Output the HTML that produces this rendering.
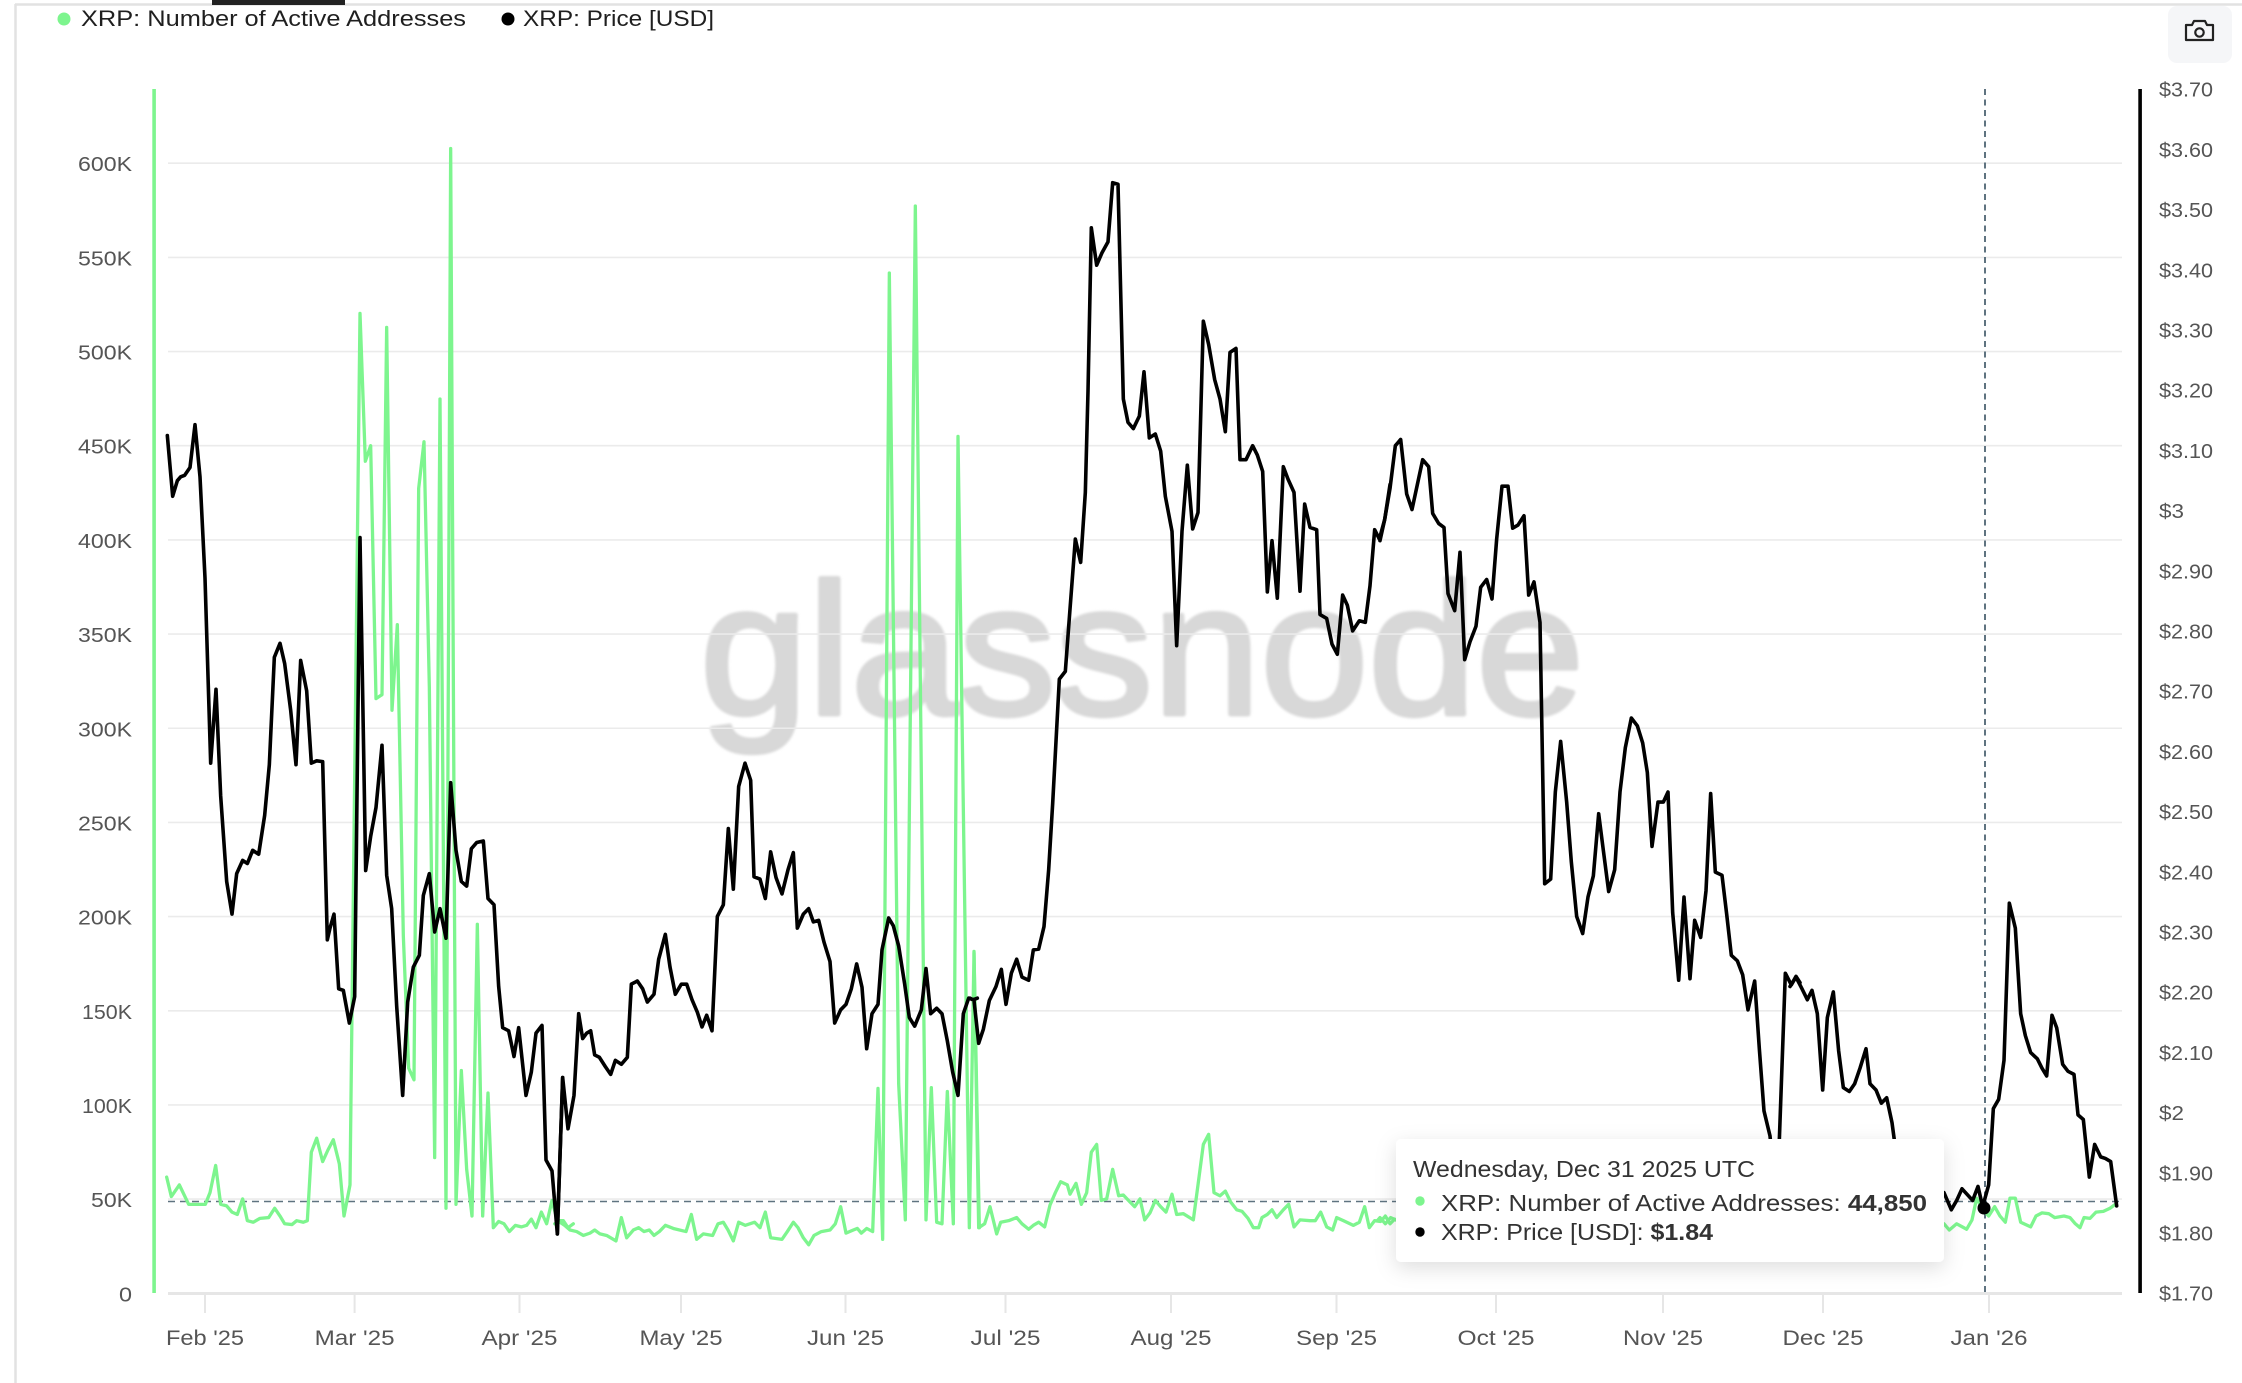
<!DOCTYPE html>
<html>
<head>
<meta charset="utf-8">
<style>
  html, body { margin: 0; padding: 0; background: #ffffff; }
  body { width: 2242px; height: 1383px; overflow: hidden; }
  svg { display: block; }
  text { font-family: "Liberation Sans", "DejaVu Sans", sans-serif; }
</style>
</head>
<body>
<svg width="2242" height="1383" viewBox="0 0 2242 1383" xmlns="http://www.w3.org/2000/svg">
  <defs>
    <filter id="sh" x="-10%" y="-30%" width="120%" height="170%">
      <feDropShadow dx="0" dy="6" stdDeviation="10" flood-color="#000" flood-opacity="0.13"/>
    </filter>
    <filter id="bl" x="-5%" y="-20%" width="110%" height="140%">
      <feGaussianBlur stdDeviation="1.2"/>
    </filter>
  </defs>

  <!-- frame -->
  <rect x="0" y="0" width="2242" height="1383" fill="#ffffff"/>
  <line x1="15" y1="4.5" x2="2242" y2="4.5" stroke="#e2e2e2" stroke-width="2.5"/>
  <line x1="15.5" y1="4" x2="15.5" y2="1383" stroke="#e2e2e2" stroke-width="2.5"/>
  <rect x="212" y="0" width="133" height="5" fill="#222222"/>

  <!-- camera button -->
  <rect x="2168" y="6" width="64" height="57" rx="9" fill="#f5f6f8"/>
  <g fill="none" stroke="#222" stroke-width="2.2" stroke-linejoin="round">
    <path d="M2186,25 L2192,25 L2194,21 L2205,21 L2207,25 L2213,25 L2213,40 L2186,40 Z"/>
    <circle cx="2199.5" cy="32.5" r="4.2"/>
  </g>

  <!-- watermark -->
  <text x="700" y="714" font-size="187" fill="#d8d8d8" stroke="#d8d8d8" stroke-width="5" stroke-linejoin="round" textLength="884" lengthAdjust="spacingAndGlyphs" filter="url(#bl)">glassnode</text>

  <!-- gridlines -->
  <g stroke="#ebebeb" stroke-width="1.6">
    <line x1="168" y1="1199.1" x2="2122" y2="1199.1"/>
    <line x1="168" y1="1104.95" x2="2122" y2="1104.95"/>
    <line x1="168" y1="1010.8" x2="2122" y2="1010.8"/>
    <line x1="168" y1="916.6" x2="2122" y2="916.6"/>
    <line x1="168" y1="822.4" x2="2122" y2="822.4"/>
    <line x1="168" y1="728.25" x2="2122" y2="728.25"/>
    <line x1="168" y1="634.1" x2="2122" y2="634.1"/>
    <line x1="168" y1="539.9" x2="2122" y2="539.9"/>
    <line x1="168" y1="445.7" x2="2122" y2="445.7"/>
    <line x1="168" y1="351.55" x2="2122" y2="351.55"/>
    <line x1="168" y1="257.4" x2="2122" y2="257.4"/>
    <line x1="168" y1="163.2" x2="2122" y2="163.2"/>
  </g>

  <!-- x axis -->
  <line x1="168" y1="1293.5" x2="2122" y2="1293.5" stroke="#e6e6e6" stroke-width="3"/>
  <g stroke="#e6e6e6" stroke-width="2">
    <line x1="205" y1="1293" x2="205" y2="1313"/>
    <line x1="354.6" y1="1293" x2="354.6" y2="1313"/>
    <line x1="519.5" y1="1293" x2="519.5" y2="1313"/>
    <line x1="681" y1="1293" x2="681" y2="1313"/>
    <line x1="845.5" y1="1293" x2="845.5" y2="1313"/>
    <line x1="1005.5" y1="1293" x2="1005.5" y2="1313"/>
    <line x1="1171" y1="1293" x2="1171" y2="1313"/>
    <line x1="1336.5" y1="1293" x2="1336.5" y2="1313"/>
    <line x1="1496" y1="1293" x2="1496" y2="1313"/>
    <line x1="1663" y1="1293" x2="1663" y2="1313"/>
    <line x1="1823" y1="1293" x2="1823" y2="1313"/>
    <line x1="1989" y1="1293" x2="1989" y2="1313"/>
  </g>
  <g font-size="21" fill="#555555" text-anchor="middle">
    <text x="205" y="1345" textLength="78" lengthAdjust="spacingAndGlyphs">Feb '25</text>
    <text x="354.6" y="1345" textLength="80" lengthAdjust="spacingAndGlyphs">Mar '25</text>
    <text x="519.5" y="1345" textLength="76" lengthAdjust="spacingAndGlyphs">Apr '25</text>
    <text x="681" y="1345" textLength="83" lengthAdjust="spacingAndGlyphs">May '25</text>
    <text x="845.5" y="1345" textLength="77" lengthAdjust="spacingAndGlyphs">Jun '25</text>
    <text x="1005.5" y="1345" textLength="70" lengthAdjust="spacingAndGlyphs">Jul '25</text>
    <text x="1171" y="1345" textLength="81" lengthAdjust="spacingAndGlyphs">Aug '25</text>
    <text x="1336.5" y="1345" textLength="81" lengthAdjust="spacingAndGlyphs">Sep '25</text>
    <text x="1496" y="1345" textLength="77" lengthAdjust="spacingAndGlyphs">Oct '25</text>
    <text x="1663" y="1345" textLength="80" lengthAdjust="spacingAndGlyphs">Nov '25</text>
    <text x="1823" y="1345" textLength="81" lengthAdjust="spacingAndGlyphs">Dec '25</text>
    <text x="1989" y="1345" textLength="77" lengthAdjust="spacingAndGlyphs">Jan '26</text>
  </g>

  <!-- left axis labels -->
  <g font-size="20" fill="#555555" text-anchor="end">
    <text x="132" y="1301.3" textLength="13" lengthAdjust="spacingAndGlyphs">0</text>
    <text x="132" y="1207.1" textLength="41" lengthAdjust="spacingAndGlyphs">50K</text>
    <text x="132" y="1113" textLength="50" lengthAdjust="spacingAndGlyphs">100K</text>
    <text x="132" y="1018.8" textLength="50" lengthAdjust="spacingAndGlyphs">150K</text>
    <text x="132" y="924.6" textLength="54" lengthAdjust="spacingAndGlyphs">200K</text>
    <text x="132" y="830.4" textLength="54" lengthAdjust="spacingAndGlyphs">250K</text>
    <text x="132" y="736.3" textLength="54" lengthAdjust="spacingAndGlyphs">300K</text>
    <text x="132" y="642.1" textLength="54" lengthAdjust="spacingAndGlyphs">350K</text>
    <text x="132" y="547.9" textLength="54" lengthAdjust="spacingAndGlyphs">400K</text>
    <text x="132" y="453.7" textLength="54" lengthAdjust="spacingAndGlyphs">450K</text>
    <text x="132" y="359.6" textLength="54" lengthAdjust="spacingAndGlyphs">500K</text>
    <text x="132" y="265.4" textLength="54" lengthAdjust="spacingAndGlyphs">550K</text>
    <text x="132" y="171.2" textLength="54" lengthAdjust="spacingAndGlyphs">600K</text>
  </g>

  <!-- right axis labels -->
  <g font-size="20" fill="#555555">
    <text x="2159" y="96.7" textLength="54" lengthAdjust="spacingAndGlyphs">$3.70</text>
    <text x="2159" y="156.9" textLength="54" lengthAdjust="spacingAndGlyphs">$3.60</text>
    <text x="2159" y="217.1" textLength="54" lengthAdjust="spacingAndGlyphs">$3.50</text>
    <text x="2159" y="277.3" textLength="54" lengthAdjust="spacingAndGlyphs">$3.40</text>
    <text x="2159" y="337.5" textLength="54" lengthAdjust="spacingAndGlyphs">$3.30</text>
    <text x="2159" y="397.7" textLength="54" lengthAdjust="spacingAndGlyphs">$3.20</text>
    <text x="2159" y="457.9" textLength="54" lengthAdjust="spacingAndGlyphs">$3.10</text>
    <text x="2159" y="518.1" textLength="25" lengthAdjust="spacingAndGlyphs">$3</text>
    <text x="2159" y="578.3" textLength="54" lengthAdjust="spacingAndGlyphs">$2.90</text>
    <text x="2159" y="638.5" textLength="54" lengthAdjust="spacingAndGlyphs">$2.80</text>
    <text x="2159" y="698.7" textLength="54" lengthAdjust="spacingAndGlyphs">$2.70</text>
    <text x="2159" y="758.9" textLength="54" lengthAdjust="spacingAndGlyphs">$2.60</text>
    <text x="2159" y="819.1" textLength="54" lengthAdjust="spacingAndGlyphs">$2.50</text>
    <text x="2159" y="879.3" textLength="54" lengthAdjust="spacingAndGlyphs">$2.40</text>
    <text x="2159" y="939.5" textLength="54" lengthAdjust="spacingAndGlyphs">$2.30</text>
    <text x="2159" y="999.7" textLength="54" lengthAdjust="spacingAndGlyphs">$2.20</text>
    <text x="2159" y="1059.9" textLength="54" lengthAdjust="spacingAndGlyphs">$2.10</text>
    <text x="2159" y="1120.1" textLength="25" lengthAdjust="spacingAndGlyphs">$2</text>
    <text x="2159" y="1180.3" textLength="54" lengthAdjust="spacingAndGlyphs">$1.90</text>
    <text x="2159" y="1240.5" textLength="54" lengthAdjust="spacingAndGlyphs">$1.80</text>
    <text x="2159" y="1300.7" textLength="54" lengthAdjust="spacingAndGlyphs">$1.70</text>
  </g>

  <!-- axis colored lines -->
  <rect x="152.3" y="89" width="3.6" height="1204" fill="#7df58e"/>
  <rect x="2138.3" y="89" width="3.6" height="1204" fill="#000000"/>

  <!-- crosshairs -->
  <line x1="168" y1="1201.5" x2="2122" y2="1201.5" stroke="#5f7380" stroke-width="1.6" stroke-dasharray="7 5"/>
  <line x1="1985" y1="89" x2="1985" y2="1293" stroke="#5f7380" stroke-width="2" stroke-dasharray="6 4.5"/>

  <!-- GREEN series -->
  <g fill="none" stroke="#7df58e" stroke-width="3.3" stroke-linejoin="round" stroke-linecap="round">
    <g transform="translate(150 80) scale(0.333333 0.77809)">
      <path vector-effect="non-scaling-stroke" d="M50,1410 L64,1435 L88,1420 L116,1445 L150,1445 L166,1445 L180,1430 L197,1395 L212,1445 L230,1447 L246,1455 L262,1458 L278,1438 L292,1466 L310,1468 L330,1463 L356,1462 L374,1450 L390,1460 L404,1470 L426,1471 L440,1466 L460,1468 L472,1466 L484,1378 L500,1360 L518,1390 L534,1375 L550,1362 L568,1393 L582,1460 L600,1420 L630,300 L646,490 L662,470 L678,795 L696,790 L710,318 L726,810 L742,700 L760,1100 L776,1270 L792,1285 L806,525 L822,465 L838,780 L854,1385 L870,410 L888,1450 L902,88 L918,1445 L934,1273 L950,1400 L966,1460 L982,1085 L998,1460 L1014,1302 L1030,1475 L1046,1467 L1062,1470 L1078,1480 L1096,1472 L1114,1474 L1130,1472 L1144,1464 L1158,1475 L1174,1455 L1190,1470 L1206,1440 L1222,1466 L1240,1466 L1254,1475 L1270,1470"/>
    </g>
    <g transform="translate(560 80) scale(0.333333 0.77809)">
      <path vector-effect="non-scaling-stroke" d="M-16,1470 L0,1468 L14,1472 L30,1478 L50,1480 L70,1485 L90,1482 L104,1478 L120,1483 L140,1485 L168,1492 L184,1462 L200,1488 L220,1478 L236,1475 L252,1480 L268,1478 L282,1485 L298,1480 L316,1472 L340,1476 L378,1480 L394,1458 L410,1490 L430,1483 L458,1485 L474,1470 L490,1468 L504,1478 L520,1492 L536,1468 L556,1472 L584,1468 L600,1475 L616,1455 L632,1488 L666,1490 L682,1480 L700,1468 L714,1475 L730,1488 L746,1497 L762,1485 L784,1480 L810,1478 L826,1470 L842,1448 L858,1482 L880,1478 L892,1476 L904,1482 L920,1476 L938,1480 L954,1296 L968,1490 L988,248 L1016,1290 L1036,1465 L1066,162 L1098,1465 L1114,1295 L1130,1468 L1146,1470 L1162,1300 L1180,1470 L1194,458 L1228,1475 L1242,1122 L1258,1475"/>
    </g>
    <g transform="translate(970 80) scale(0.333333 0.77809)">
      <path vector-effect="non-scaling-stroke" d="M12,1120 L26,1475 L44,1470 L60,1448 L80,1483 L92,1468 L116,1466 L140,1462 L156,1470 L176,1477 L190,1472 L206,1468 L224,1474 L240,1446 L256,1430 L272,1416 L292,1420 L300,1432 L318,1418 L334,1445 L350,1430 L364,1378 L380,1368 L394,1440 L410,1438 L428,1400 L446,1434 L460,1433 L480,1442 L494,1448 L510,1438 L524,1465 L540,1456 L556,1440 L572,1448 L588,1455 L606,1432 L620,1458 L640,1457 L670,1465 L684,1420 L700,1368 L716,1355 L732,1430 L750,1434 L766,1428 L782,1442 L800,1452 L816,1454 L834,1463 L850,1475 L866,1475 L876,1462 L892,1458 L906,1452 L920,1462 L940,1452 L956,1445 L972,1474 L990,1465 L1020,1466 L1036,1466 L1052,1455 L1070,1474 L1088,1478 L1100,1462 L1120,1466 L1150,1472 L1168,1468 L1184,1448 L1198,1475 L1214,1466 L1232,1467 L1246,1460 L1260,1470 L1274,1464"/>
    </g>
    <g transform="translate(1380 80) scale(0.333333 0.77809)">
      <path vector-effect="non-scaling-stroke" d="M-8,1466 L0,1462 L16,1470 L32,1462 L52,1466 L300,1465 L600,1470 L900,1462 L1200,1470 L1500,1466 L1690,1470"/>
    </g>
    <g transform="translate(1790 80) scale(0.333333 0.77809)">
      <path vector-effect="non-scaling-stroke" d="M440,1472 L462,1470 L478,1478 L500,1470 L530,1477 L546,1465 L560,1437 L576,1450 L596,1460 L614,1448 L630,1460 L646,1468 L660,1437 L676,1437 L692,1468 L722,1474 L738,1460 L756,1456 L776,1457 L794,1462 L822,1460 L840,1462 L856,1470 L870,1475 L882,1462 L900,1463 L918,1455 L940,1454 L960,1450 L976,1445"/>
    </g>
  </g>

  <!-- BLACK series -->
  <g fill="none" stroke="#000000" stroke-width="3.6" stroke-linejoin="round" stroke-linecap="round">
    <g transform="translate(150 80) scale(0.333333 0.77809)">
      <path vector-effect="non-scaling-stroke" d="M52,457 L68,535 L82,515 L92,510 L104,508 L120,498 L135,443 L150,510 L165,640 L182,878 L198,783 L212,920 L230,1030 L246,1072 L260,1020 L278,1003 L292,1007 L308,990 L326,995 L344,945 L358,880 L373,742 L390,724 L404,750 L422,810 L438,880 L452,746 L470,785 L484,878 L500,875 L518,876 L532,1105 L540,1090 L552,1072 L566,1168 L580,1170 L598,1212 L614,1178 L630,588 L647,1016 L662,972 L678,935 L696,855 L710,1022 L725,1065 L740,1190 L758,1305 L773,1185 L790,1140 L808,1125 L820,1048 L838,1020 L854,1095 L870,1065 L888,1103 L902,903 L918,990 L934,1030 L950,1036 L964,988 L980,980 L1000,978 L1014,1052 L1032,1060 L1046,1165 L1058,1218 L1076,1222 L1092,1255 L1106,1218 L1128,1305 L1144,1275 L1158,1225 L1176,1215 L1188,1388 L1206,1402 L1222,1483 L1238,1282"/>
    </g>
    <g transform="translate(560 80) scale(0.333333 0.77809)">
      <path vector-effect="non-scaling-stroke" d="M-8,1483 L8,1282 L24,1348 L42,1305 L56,1200 L68,1232 L80,1225 L92,1222 L104,1253 L118,1256 L136,1268 L152,1278 L166,1260 L184,1265 L202,1256 L214,1162 L232,1158 L248,1168 L262,1185 L282,1175 L296,1130 L316,1098 L330,1140 L346,1175 L364,1162 L380,1162 L396,1182 L412,1198 L426,1217 L440,1202 L456,1222 L472,1075 L490,1060 L505,962 L520,1040 L536,908 L555,878 L572,900 L582,1024 L600,1027 L616,1052 L632,992 L648,1025 L666,1046 L684,1015 L700,993 L712,1090 L730,1072 L746,1065 L760,1082 L776,1080 L792,1108 L810,1133 L824,1212 L842,1195 L858,1188 L874,1168 L890,1136 L906,1166 L920,1245 L936,1200 L954,1188 L966,1118 L986,1077 L1000,1087 L1016,1113 L1034,1162 L1048,1205 L1064,1216 L1084,1195 L1098,1142 L1112,1200 L1130,1193 L1146,1200 L1162,1235 L1178,1275 L1194,1305 L1210,1200 L1226,1180 L1240,1182 L1252,1180"/>
    </g>
    <g transform="translate(970 80) scale(0.333333 0.77809)">
      <path vector-effect="non-scaling-stroke" d="M0,1180 L12,1183 L26,1238 L40,1220 L58,1183 L78,1165 L94,1143 L108,1188 L124,1148 L140,1130 L156,1153 L176,1157 L190,1118 L206,1117 L222,1088 L236,1015 L248,930 L258,850 L268,770 L286,760 L300,680 L316,590 L332,620 L346,530 L354,400 L364,190 L380,238 L396,222 L414,208 L428,132 L444,134 L460,410 L474,440 L490,448 L508,432 L522,375 L538,460 L556,455 L572,477 L586,535 L606,580 L620,727 L636,580 L652,495 L668,577 L684,556 L700,310 L716,340 L734,385 L750,410 L766,452 L780,350 L798,345 L810,488 L828,488 L848,470 L862,482 L878,503 L892,658 L906,592 L922,666 L940,497 L954,513 L972,530 L990,657 L1004,545 L1020,575 L1040,578 L1050,687 L1070,692 L1086,725 L1102,738 L1118,662 L1132,675 L1148,708 L1168,695 L1186,697 L1200,650 L1214,578 L1228,590 L1244,565 L1260,520"/>
    </g>
    <g transform="translate(1380 80) scale(0.333333 0.77809)">
      <path vector-effect="non-scaling-stroke" d="M0,592 L14,565 L30,525 L46,470 L62,462 L80,532 L96,552 L112,520 L128,488 L146,497 L158,557 L176,570 L192,575 L204,660 L224,682 L240,607 L254,745 L270,722 L288,702 L302,652 L320,642 L336,667 L350,590 L366,522 L384,522 L398,576 L414,572 L432,560 L446,662 L462,645 L480,697 L494,1033 L512,1027 L526,915 L542,850 L560,928 L574,1005 L590,1075 L608,1097 L624,1050 L640,1023 L656,943 L670,990 L686,1043 L704,1015 L720,915 L736,858 L754,820 L772,830 L788,852 L802,890 L816,985 L834,928 L850,928 L864,915 L878,1070 L896,1157 L912,1050 L930,1155 L944,1080 L962,1102 L978,1042 L992,917 L1006,1018 L1026,1022 L1040,1072 L1054,1125 L1072,1132 L1088,1150 L1104,1195 L1124,1158 L1138,1245 L1152,1325 L1170,1357 L1182,1410 L1194,1410 L1216,1148 L1234,1163 L1248,1152 L1260,1160"/>
    </g>
    <g transform="translate(1790 80) scale(0.333333 0.77809)">
      <path vector-effect="non-scaling-stroke" d="M0,1165 L18,1153 L36,1168 L52,1182 L66,1170 L82,1200 L98,1298 L112,1205 L130,1172 L146,1248 L160,1295 L178,1300 L194,1290 L210,1270 L228,1245 L240,1290 L258,1298 L274,1315 L290,1308 L306,1340 L316,1372 L340,1440 L380,1450 L420,1440 L462,1430 L484,1452 L500,1440 L516,1425 L548,1440 L564,1422 L578,1448 L596,1420 L610,1322 L626,1310 L642,1260 L658,1058 L676,1090 L692,1200 L706,1228 L722,1250 L742,1258 L756,1270 L770,1280 L786,1202 L800,1218 L818,1265 L834,1274 L852,1278 L864,1330 L880,1336 L898,1410 L914,1368 L932,1384 L946,1386 L962,1390 L980,1447"/>
    </g>
  </g>

  <!-- marker -->
  <circle cx="1984" cy="1208" r="6.5" fill="#000000"/>

  <!-- tooltip -->
  <rect x="1396" y="1139" width="548" height="123" rx="5" fill="#ffffff" filter="url(#sh)"/>
  <text x="1413" y="1177" font-size="23" fill="#333333" textLength="342" lengthAdjust="spacingAndGlyphs">Wednesday, Dec 31 2025 UTC</text>
  <circle cx="1420" cy="1201" r="4.7" fill="#7df58e"/>
  <text x="1441" y="1211" font-size="23" fill="#333333" textLength="486" lengthAdjust="spacingAndGlyphs">XRP: Number of Active Addresses: <tspan font-weight="bold">44,850</tspan></text>
  <circle cx="1420" cy="1232" r="4.7" fill="#000000"/>
  <text x="1441" y="1240" font-size="23" fill="#333333" textLength="272" lengthAdjust="spacingAndGlyphs">XRP: Price [USD]: <tspan font-weight="bold">$1.84</tspan></text>

  <!-- legend -->
  <circle cx="64" cy="19" r="6.5" fill="#7df58e"/>
  <text x="81" y="26" font-size="22.5" fill="#1f1f1f" textLength="385" lengthAdjust="spacingAndGlyphs">XRP: Number of Active Addresses</text>
  <circle cx="508" cy="19" r="6.5" fill="#000000"/>
  <text x="523" y="26" font-size="22.5" fill="#1f1f1f" textLength="191" lengthAdjust="spacingAndGlyphs">XRP: Price [USD]</text>
</svg>
</body>
</html>
